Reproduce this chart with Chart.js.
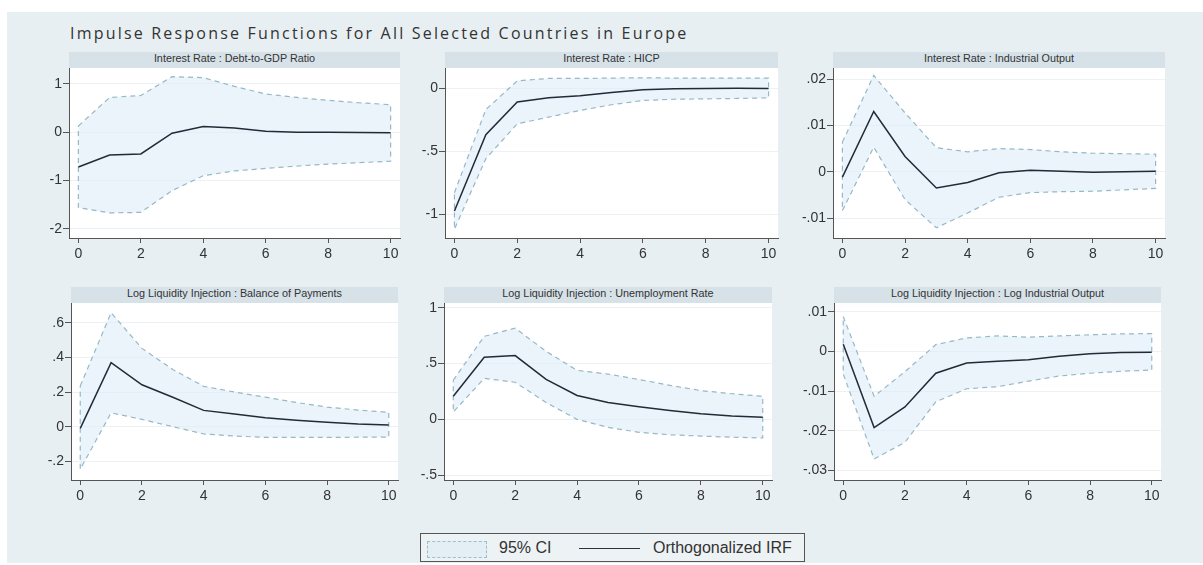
<!DOCTYPE html>
<html>
<head>
<meta charset="utf-8">
<title>Impulse Response Functions</title>
<script src="https://cdn.jsdelivr.net/npm/chart.js@4.4.0/dist/chart.umd.min.js"></script>
<style>
  html, body { margin: 0; padding: 0; background: #fff; }
  #page { position: relative; width: 1203px; height: 565px; overflow: hidden; background: #fff; }
  #bg { position: absolute; left: 7px; top: 12px; width: 1196px; height: 551px; background: #e8eff2; }
  #title { position: absolute; left: 70px; top: 23px; font: 16px 'Open Sans', sans-serif; letter-spacing: 2.2px; color: #333; white-space: nowrap; line-height: 20px; }
  .head { position: absolute; height: 16px; line-height: 16px; background: #d6e1e8; font: 10.8px 'Liberation Sans', Arial, sans-serif; color: #333; text-align: center; white-space: nowrap; }
  canvas { position: absolute; }
  #legend { position: absolute; left: 420px; top: 533px; width: 385px; height: 29px; border: 1px solid #555; background: #edf2f4; box-sizing: border-box; font: 16px 'Liberation Sans', Arial, sans-serif; color: #333; }
  #legend .sw { position: absolute; left: 6px; top: 7px; width: 60px; height: 17px; border: 1px dashed #9dbdcc; background: #e3eef5; box-sizing: border-box; }
  #legend .ln { position: absolute; left: 158px; top: 14px; width: 61px; height: 0; border-top: 1.5px solid #2a3140; }
  #legend .t1 { position: absolute; left: 78px; top: 5px; line-height: 18px; }
  #legend .t2 { position: absolute; left: 232px; top: 5px; line-height: 18px; }
</style>
</head>
<body>
<div id="page">
  <div id="bg"></div>
  <div id="title">Impulse Response Functions for All Selected Countries in Europe</div>
  <div id="legend">
    <div class="sw"></div><div class="t1">95% CI</div>
    <div class="ln"></div><div class="t2">Orthogonalized IRF</div>
  </div>
</div>
<script>
'use strict';

// horizon (steps) and x tick labels
const steps = [0, 1, 2, 3, 4, 5, 6, 7, 8, 9, 10];
const xTicks = [0, 2, 4, 6, 8, 10];

// Interest Rate : Debt-to-GDP Ratio
const debtIrf = [-0.72, -0.47, -0.45, -0.02, 0.12, 0.09, 0.02, 0.0, 0.0, -0.005, -0.01];
const debtLower = [-1.56, -1.67, -1.66, -1.21, -0.90, -0.80, -0.75, -0.70, -0.66, -0.63, -0.60];
const debtUpper = [0.13, 0.72, 0.76, 1.15, 1.13, 0.95, 0.79, 0.72, 0.66, 0.61, 0.57];
const debtTicks = [-2, -1, 0, 1];
const debtTickLabels = ['-2', '-1', '0', '1'];

// Interest Rate : HICP
const hicpIrf = [-0.976, -0.37, -0.11, -0.077, -0.06, -0.034, -0.013, -0.005, -0.002, -0.001, -0.002];
const hicpLower = [-1.12, -0.56, -0.283, -0.23, -0.177, -0.132, -0.098, -0.088, -0.085, -0.082, -0.077];
const hicpUpper = [-0.83, -0.17, 0.058, 0.077, 0.077, 0.08, 0.082, 0.08, 0.08, 0.08, 0.08];
const hicpTicks = [-1, -0.5, 0];
const hicpTickLabels = ['-1', '-.5', '0'];

// Interest Rate : Industrial Output
const indIrf = [-0.00115, 0.013, 0.0033, -0.0035, -0.0023, -0.0002, 0.0003, 0.0001, -0.0001, 0.0, 0.0001];
const indLower = [-0.0084, 0.0053, -0.006, -0.0121, -0.0089, -0.0055, -0.0045, -0.0043, -0.0042, -0.0039, -0.0036];
const indUpper = [0.0064, 0.0208, 0.0127, 0.0052, 0.0043, 0.005, 0.0048, 0.0043, 0.004, 0.0039, 0.0038];
const indTicks = [-0.01, 0, 0.01, 0.02];
const indTickLabels = ['-.01', '0', '.01', '.02'];

// Log Liquidity Injection : Balance of Payments
const bopIrf = [-0.01, 0.369, 0.242, 0.17, 0.094, 0.073, 0.052, 0.037, 0.025, 0.015, 0.01];
const bopLower = [-0.246, 0.08, 0.042, 0.0, -0.042, -0.054, -0.062, -0.062, -0.062, -0.061, -0.06];
const bopUpper = [0.235, 0.658, 0.452, 0.33, 0.233, 0.2, 0.17, 0.14, 0.113, 0.096, 0.083];
const bopTicks = [-0.2, 0, 0.2, 0.4, 0.6];
const bopTickLabels = ['-.2', '0', '.2', '.4', '.6'];

// Log Liquidity Injection : Unemployment Rate
const unempIrf = [0.207, 0.557, 0.572, 0.358, 0.214, 0.151, 0.113, 0.079, 0.05, 0.031, 0.019];
const unempLower = [0.066, 0.368, 0.333, 0.151, 0.0, -0.072, -0.116, -0.138, -0.15, -0.16, -0.167];
const unempUpper = [0.352, 0.745, 0.818, 0.61, 0.44, 0.406, 0.358, 0.305, 0.258, 0.23, 0.207];
const unempTicks = [-0.5, 0, 0.5, 1];
const unempTickLabels = ['-.5', '0', '.5', '1'];

// Log Liquidity Injection : Log Industrial Output
const logIndIrf = [0.0018, -0.0192, -0.014, -0.0055, -0.0029, -0.0025, -0.0021, -0.0012, -0.0006, -0.0003, -0.0002];
const logIndLower = [-0.0057, -0.0271, -0.0229, -0.0127, -0.0094, -0.0089, -0.0075, -0.0062, -0.0055, -0.005, -0.0047];
const logIndUpper = [0.0088, -0.0113, -0.0051, 0.0017, 0.0034, 0.0039, 0.0036, 0.0039, 0.0042, 0.0044, 0.0045];
const logIndTicks = [-0.03, -0.02, -0.01, 0, 0.01];
const logIndTickLabels = ['-.03', '-.02', '-.01', '0', '.01'];

// panel placement: plot area [left, top, right, bottom] in page pixels
const panels = [
  { name: 'Interest Rate : Debt-to-GDP Ratio', box: [69, 68, 400, 238], yMin: -2.19, yMax: 1.33,
    irf: debtIrf, lo: debtLower, hi: debtUpper, ticks: debtTicks, labels: debtTickLabels },
  { name: 'Interest Rate : HICP', box: [445, 68, 778, 238], yMin: -1.19, yMax: 0.16,
    irf: hicpIrf, lo: hicpLower, hi: hicpUpper, ticks: hicpTicks, labels: hicpTickLabels },
  { name: 'Interest Rate : Industrial Output', box: [833, 68, 1165, 238], yMin: -0.0143, yMax: 0.0224,
    irf: indIrf, lo: indLower, hi: indUpper, ticks: indTicks, labels: indTickLabels },
  { name: 'Log Liquidity Injection : Balance of Payments', box: [71, 303, 398, 480], yMin: -0.308, yMax: 0.714,
    irf: bopIrf, lo: bopLower, hi: bopUpper, ticks: bopTicks, labels: bopTickLabels },
  { name: 'Log Liquidity Injection : Unemployment Rate', box: [444, 303, 772, 480], yMin: -0.544, yMax: 1.044,
    irf: unempIrf, lo: unempLower, hi: unempUpper, ticks: unempTicks, labels: unempTickLabels },
  { name: 'Log Liquidity Injection : Log Industrial Output', box: [834, 303, 1161, 480], yMin: -0.0324, yMax: 0.0122,
    irf: logIndIrf, lo: logIndLower, hi: logIndUpper, ticks: logIndTicks, labels: logIndTickLabels }
];

const page = document.getElementById('page');
const axisFont = { family: "'Liberation Sans', Arial, sans-serif", size: 14 };

function makePanel(p) {
  const padL = 45, padT = 10, padR = 10, axisH = 30;
  const L = p.box[0], T = p.box[1], R = p.box[2], B = p.box[3];

  let head = document.createElement('div');
  head.className = 'head';
  head.style.left = L + 'px';
  head.style.top = (T - 16) + 'px';
  head.style.width = (R - L) + 'px';
  head.textContent = p.name;
  page.appendChild(head);

  let canvas = document.createElement('canvas');
  canvas.width = R - L + padL + padR;
  canvas.height = B - T + padT + axisH;
  canvas.style.left = (L - padL) + 'px';
  canvas.style.top = (T - padT) + 'px';
  page.appendChild(canvas);

  // closed band: upper bound forward, lower bound back
  let band = steps.map(i => ({ x: i, y: p.hi[i] }));
  for (let i = steps.length - 1; i >= 0; i--) {
    band.push({ x: steps[i], y: p.lo[i] });
  }
  band.push({ x: steps[0], y: p.hi[0] });

  new Chart(canvas.getContext('2d'), {
    type: 'scatter',
    data: {
      datasets: [{
        data: band,
        order: 2,
        showLine: true,
        fill: 'shape',
        backgroundColor: 'rgba(222, 236, 246, 0.6)',
        borderColor: '#97b8c8',
        borderWidth: 1.2,
        borderDash: [5, 4],
        pointRadius: 0,
        tension: 0
      }, {
        data: steps.map(i => ({ x: i, y: p.irf[i] })),
        order: 1,
        showLine: true,
        fill: false,
        borderColor: '#222a38',
        borderWidth: 1.5,
        pointRadius: 0,
        tension: 0
      }]
    },
    options: {
      responsive: false,
      animation: false,
      layout: { padding: { left: 0, top: padT, right: padR, bottom: 0 } },
      plugins: { legend: { display: false }, tooltip: { enabled: false } },
      scales: {
        x: {
          type: 'linear', min: -0.3, max: 10.3,
          afterBuildTicks: s => { s.ticks = xTicks.map(v => ({ value: v })); },
          afterFit: s => { s.height = axisH; },
          grid: { drawOnChartArea: false, tickLength: 5, tickColor: '#555' },
          border: { color: '#555', width: 1 },
          ticks: { font: axisFont, color: '#333', padding: 3, maxRotation: 0, callback: v => String(v) }
        },
        y: {
          type: 'linear', min: p.yMin, max: p.yMax,
          afterBuildTicks: s => { s.ticks = p.ticks.map(v => ({ value: v })); },
          afterFit: s => { s.width = padL; },
          grid: { color: '#edf1f4', tickLength: 6, tickColor: '#555' },
          border: { color: '#555', width: 1 },
          ticks: { font: axisFont, color: '#333', padding: 1, callback: (v, i) => p.labels[i] }
        }
      }
    },
    plugins: [{
      id: 'plotBg',
      beforeDraw(chart) {
        const a = chart.chartArea;
        chart.ctx.save();
        chart.ctx.fillStyle = '#ffffff';
        chart.ctx.fillRect(a.left, a.top, a.right - a.left, a.bottom - a.top);
        chart.ctx.restore();
      }
    }]
  });
}

for (let i = 0; i < panels.length; i++) {
  makePanel(panels[i]);
}
</script>
</body>
</html>
